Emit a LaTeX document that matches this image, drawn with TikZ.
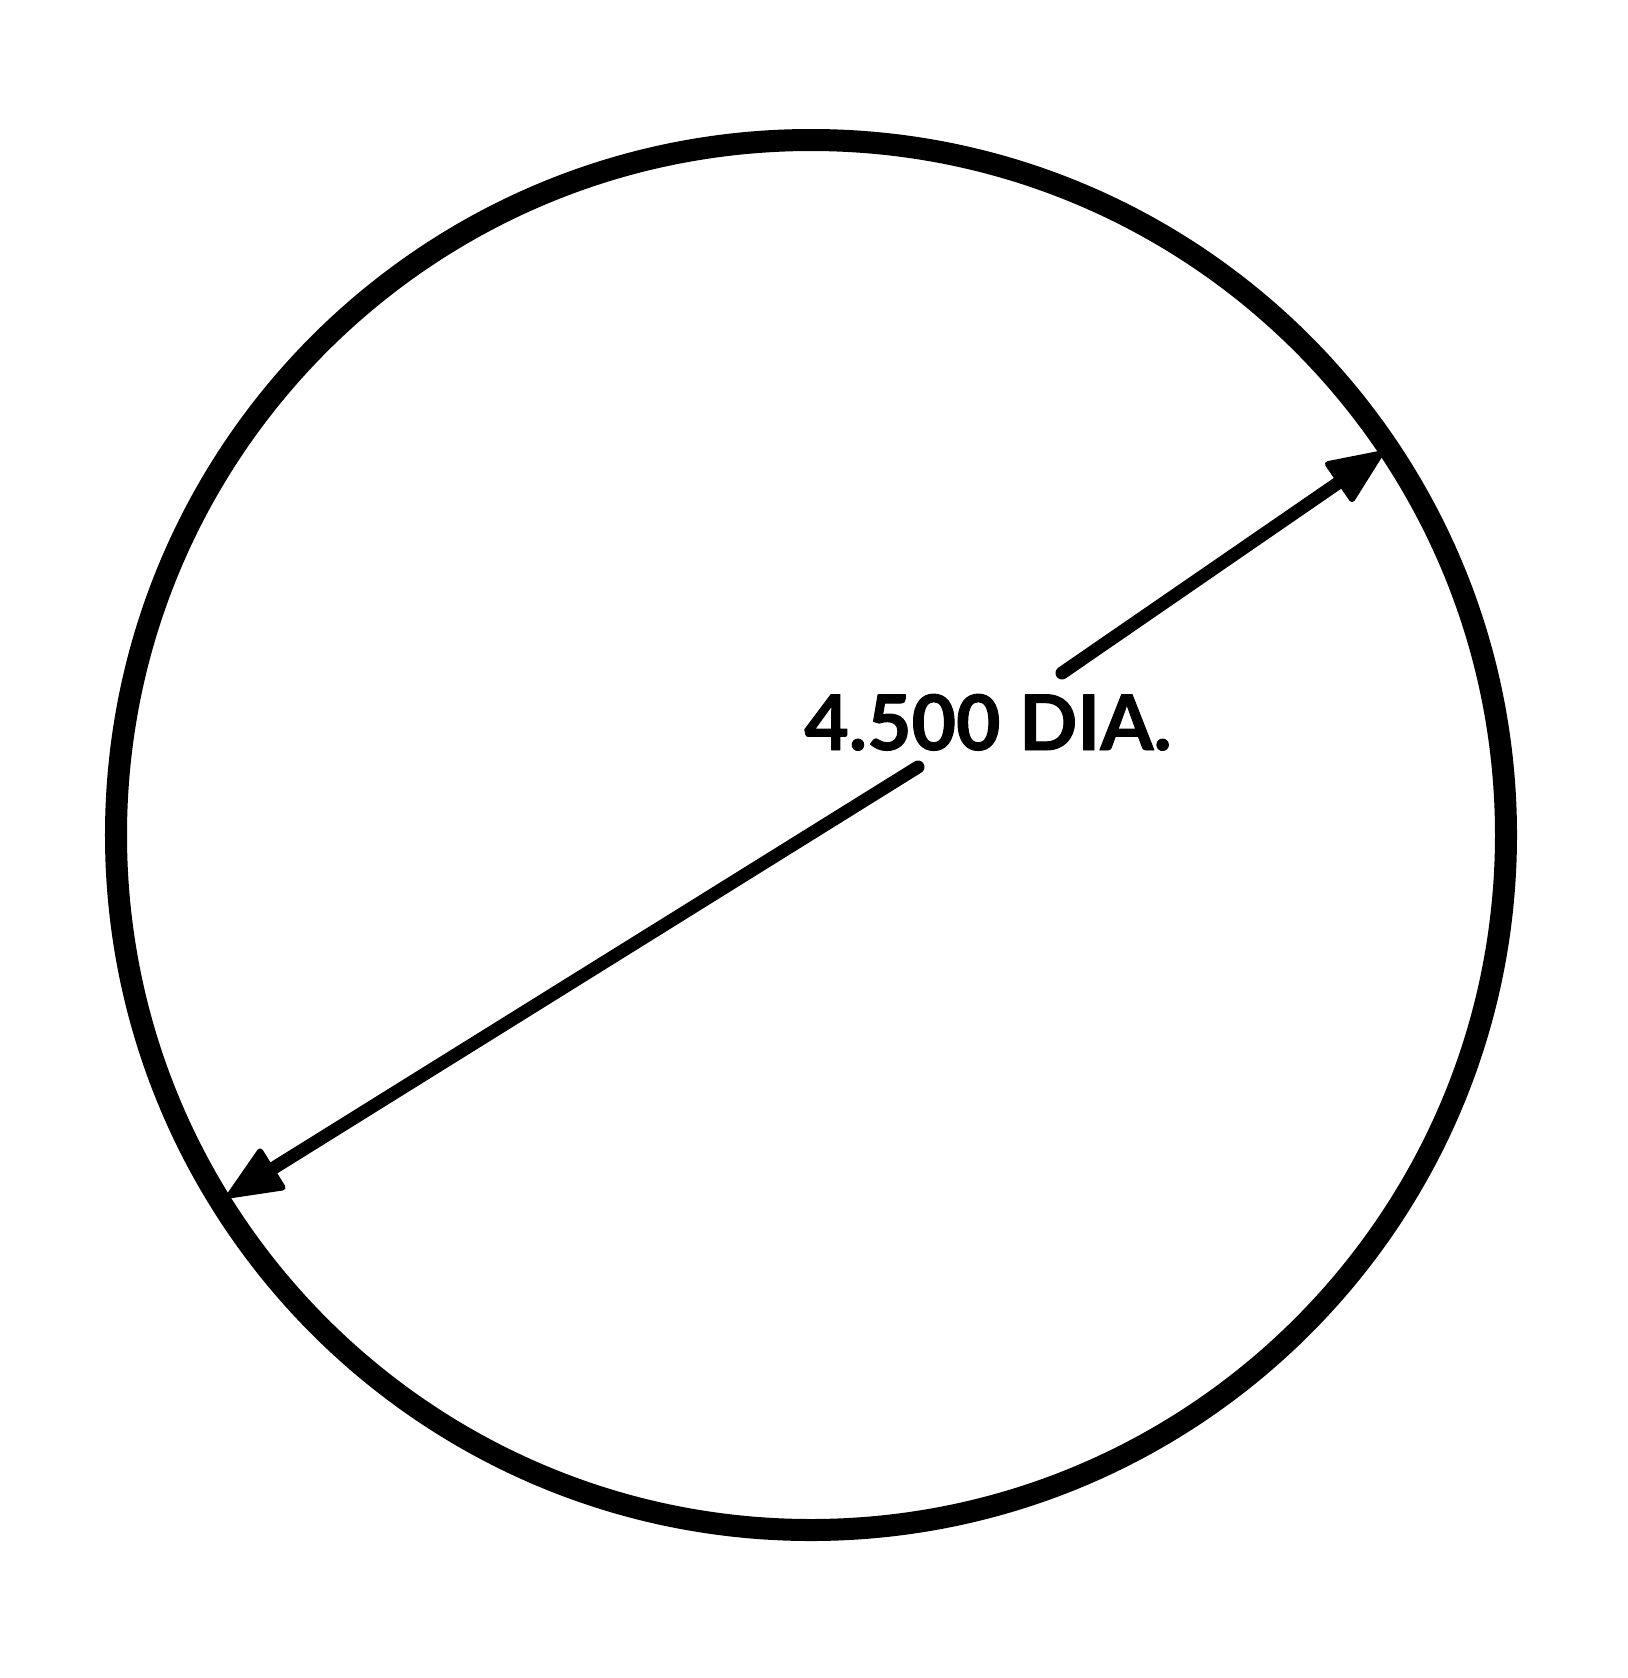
\documentclass[tikz,border=0pt]{standalone}
\usepackage{fontspec}
\newfontfamily\dimfont[BoldFeatures={FakeBold=1.2}]{Lato}
\usetikzlibrary{arrows.meta}
\usetikzlibrary{positioning}
\tikzset{
  outline/.style={line width=0.22cm, color=black},
  dimline/.style={line width=0.13cm, color=black, line cap=round,
    -{Triangle[length=0.6cm, width=0.5cm, line join=round, line width=0.06cm, fill=black]}},
  dimlabel/.style={inner sep=0pt, anchor=base, font=\dimfont\bfseries\fontsize{21.8pt}{26pt}\selectfont}
}
\begin{document}
\begin{tikzpicture}[line cap=round,line join=round, x=0.01cm,y=-0.01cm]
					\useasboundingbox (0,0) rectangle (1628,1678);
					\coordinate (ctr) at (811,835);
					\draw[outline] (ctr) circle (695);
					% dimension text and leaders
					\node[dimlabel] (dia) at (988,750) {4.500 DIA.};
					\coordinate (upStart) at (1062,673);
					\coordinate (upTip) at (1383,452);
					\coordinate (loStart) at (918,767);
					\coordinate (loTip) at (227,1197);
					\draw[dimline] (upStart) -- (upTip);
					\draw[dimline] (loStart) -- (loTip);
				\end{tikzpicture}
\end{document}
